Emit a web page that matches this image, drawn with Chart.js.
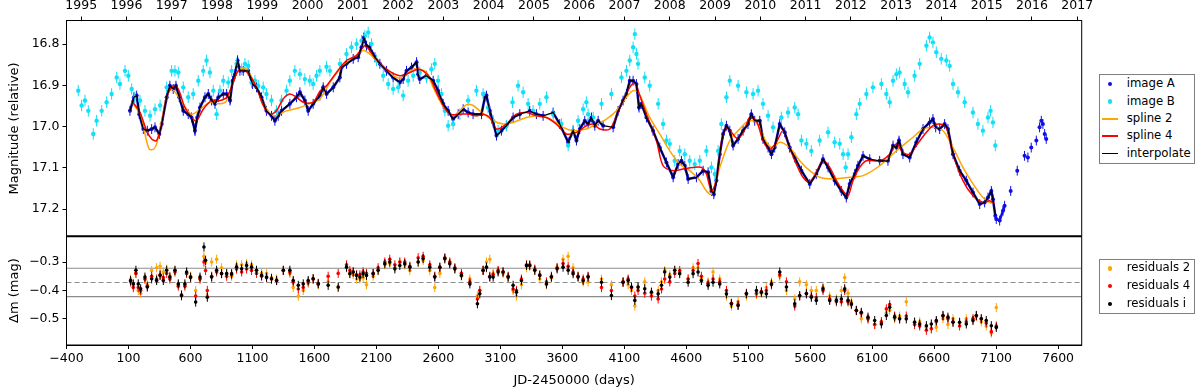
<!DOCTYPE html>
<html lang="en">
<head>
<meta charset="UTF-8">
<title>Light curves A/B</title>
<style>
  body { margin: 0; background: #fff; font-family: "DejaVu Sans", sans-serif; }
  #wrap { position: relative; width: 1200px; height: 391px; }
  #lc { position: absolute; left: 0; top: 0; }
  .leg { position: absolute; border: 1px solid #7f7f7f; box-sizing: border-box; background: #fff; }
  .row { position: absolute; left: 0; padding-left: 26.7px; font-size: 11.7px; color: #000; white-space: nowrap; }
  .dot { position: absolute; left: 7.8px; width: 4.5px; height: 4.5px; border-radius: 50%; }
  .ln { position: absolute; left: 2.3px; width: 15.4px; height: 1.5px; }
</style>
</head>
<body>
<div id="wrap">
  <canvas id="lc" width="1200" height="391"></canvas>

  <div class="leg" style="left:1099px;top:74px;width:96px;height:90px;">
    <div class="row" style="top:0.4px;height:17.3px;line-height:17.3px"><span class="dot" style="top:6.4px;background:#1010e8"></span>image A</div>
    <div class="row" style="top:17.7px;height:17.3px;line-height:17.3px"><span class="dot" style="top:6.4px;background:#10e0f8"></span>image B</div>
    <div class="row" style="top:35px;height:17.3px;line-height:17.3px"><span class="ln" style="top:8px;background:#ffa500"></span>spline 2</div>
    <div class="row" style="top:52.3px;height:17.3px;line-height:17.3px"><span class="ln" style="top:8px;background:#ff0000"></span>spline 4</div>
    <div class="row" style="top:69.6px;height:17.3px;line-height:17.3px"><span class="ln" style="top:8px;background:#000"></span>interpolate</div>
  </div>

  <div class="leg" style="left:1099px;top:259px;width:96px;height:55px;">
    <div class="row" style="top:-0.6px;height:17.8px;line-height:17.8px"><span class="dot" style="top:6.6px;background:#ffa500"></span>residuals 2</div>
    <div class="row" style="top:17.2px;height:17.8px;line-height:17.8px"><span class="dot" style="top:6.6px;background:#ff0000"></span>residuals 4</div>
    <div class="row" style="top:35px;height:17.8px;line-height:17.8px"><span class="dot" style="top:6.6px;background:#000"></span>residuals i</div>
  </div>
</div>

<script src="https://cdn.jsdelivr.net/npm/chart.js"></script>
<script>
// ---- data (days = JD-2450000) ----
const dayA = [112,144,166,187,220,252,287,314,349,368,
  408,434,461,483,510,542,582,609,636,655,
  677,717,744,771,798,825,865,892,919,940,
  959,980,999,1026,1066,1101,1133,1173,1213,1254,
  1281,1308,1335,1402,1456,1483,1523,1550,1590,1644,
  1671,1698,1752,1805,1819,1859,1913,1953,1980,1999,
  2020,2047,2088,2128,2182,2235,2289,2316,2343,2383,
  2424,2437,2450,2504,2558,2598,2639,2679,2719,2760,
  2800,2840,2880,2948,2975,2988,3015,3042,3069,3109,
  3149,3203,3257,3337,3391,3445,3526,3579,3647,3687,
  3714,3741,3781,3808,3835,3862,3889,3929,4010,4050,
  4090,4117,4144,4171,4198,4219,4238,4279,4332,4386,
  4440,4494,4534,4561,4588,4615,4682,4736,4776,4803,
  4822,4843,4870,4897,4924,4951,4978,5018,5058,5098,
  5125,5152,5193,5219,5260,5287,5313,5354,5394,5434,
  5475,5529,5596,5649,5703,5744,5797,5851,5891,5918,
  5959,5985,6026,6080,6160,6227,6268,6295,6316,6348,
  6402,6456,6510,6563,6590,6612,6644,6684,6711,6752,
  6805,6859,6913,6967,7007,7034,7061,7074,7093,
  7101,7128,7155,7168,7217,7270,7329,7356,7383,7424,
  7450,7464,7477,7491,7504];
const magA = [16.962,16.929,16.925,16.970,17.006,17.010,17.006,17.002,17.018,16.994,
  16.929,16.901,16.909,16.901,16.929,16.962,16.970,16.978,17.010,16.978,
  16.954,16.929,16.921,16.937,16.945,16.929,16.921,16.921,16.937,16.889,
  16.873,16.840,16.865,16.865,16.865,16.897,16.905,16.929,16.962,16.974,
  16.986,16.974,16.962,16.945,16.929,16.917,16.937,16.962,16.945,16.925,
  16.905,16.921,16.905,16.881,16.857,16.848,16.836,16.832,16.808,16.784,
  16.804,16.808,16.832,16.848,16.865,16.881,16.893,16.885,16.865,16.857,
  16.844,16.873,16.885,16.877,16.889,16.913,16.945,16.962,16.982,16.970,
  16.958,16.966,16.970,16.970,16.929,16.925,16.962,16.990,17.022,17.010,
  16.998,16.978,16.970,16.962,16.970,16.974,16.966,16.994,17.038,17.010,
  17.034,17.006,16.986,16.994,16.978,16.998,16.986,16.998,17.002,16.962,
  16.937,16.921,16.889,16.889,16.897,16.954,16.945,16.978,17.010,17.051,
  17.087,17.123,17.091,17.083,17.095,17.127,17.123,17.107,17.111,17.156,
  17.164,17.131,17.067,17.018,16.998,17.010,17.046,17.030,17.010,16.994,
  16.970,16.986,16.986,17.030,17.051,17.067,17.051,16.994,17.014,17.051,
  17.075,17.107,17.139,17.115,17.079,17.099,17.131,17.156,17.172,17.139,
  17.115,17.095,17.071,17.079,17.083,17.083,17.046,17.051,17.034,17.067,
  17.075,17.038,17.006,16.990,16.982,17.002,17.006,16.994,17.006,17.067,
  17.107,17.131,17.160,17.188,17.184,17.172,17.156,17.176,17.216,
  17.224,17.228,17.204,17.192,17.156,17.107,17.071,17.075,17.051,17.034,
  17.002,16.986,16.994,17.018,17.030];
const lastInterpDay = 7093;   // interpolation stops here
const lastDenseDay = 7168;    // after this image A is sparse

const dayB = [-305,-278,-251,-224,-184,-157,-116,-76,-36,5,
  31,72,99,126,152,193,233,274,314,355,
  408,448,475,502,542,582,622,663,703,730,
  757,784,811,838,865,905,932,972,1013,1040,
  1066,1093,1120,1147,1187,1213,1254,1294,1335,1375,
  1402,1442,1483,1523,1563,1590,1617,1644,1698,1725,
  1805,1859,1899,1940,1980,2007,2034,2061,2101,2155,
  2195,2235,2276,2316,2356,2397,2450,2504,2544,2571,
  2598,2625,2652,2679,2719,2773,2840,2907,2961,3001,
  3042,3082,3149,3198,3243,3284,3324,3364,3418,3472,
  3526,3593,3647,3687,3727,3768,3794,3808,3849,3916,
  3996,4077,4117,4144,4171,4185,4198,4211,4265,4305,
  4373,4413,4440,4467,4507,4547,4588,4628,4668,4709,
  4762,4803,4830,4857,4883,4924,4951,5018,5085,5139,
  5179,5219,5260,5300,5367,5421,5475,5502,5529,5569,
  5609,5676,5744,5797,5838,5865,5886,5905,5932,5972,
  5999,6053,6106,6174,6214,6241,6268,6295,6321,6362,
  6389,6442,6483,6537,6563,6590,6617,6657,6698,6725,
  6752,6792,6846,6913,6953,6993,7034,7055,7074,7093];
const magB = [16.913,16.949,16.937,16.962,17.018,16.986,16.962,16.941,16.921,16.881,
  16.897,16.865,16.877,16.909,16.929,16.937,16.962,16.974,16.958,16.949,
  16.905,16.865,16.865,16.869,16.905,16.929,16.921,16.889,16.865,16.840,
  16.869,16.913,16.970,16.913,16.889,16.893,16.865,16.848,16.861,16.848,
  16.853,16.893,16.889,16.901,16.905,16.921,16.937,16.962,16.937,16.913,
  16.889,16.865,16.873,16.885,16.889,16.897,16.877,16.865,16.855,16.865,
  16.848,16.824,16.808,16.800,16.792,16.780,16.772,16.800,16.840,16.877,
  16.897,16.909,16.905,16.925,16.889,16.877,16.869,16.881,16.861,16.848,
  16.889,16.921,16.962,16.998,16.994,16.970,16.937,16.913,16.921,16.954,
  16.986,17.010,16.998,16.941,16.901,16.917,16.945,16.962,16.945,16.929,
  16.970,16.994,17.046,17.010,16.986,16.958,16.941,16.970,16.978,16.945,
  16.921,16.881,16.865,16.840,16.808,16.776,16.824,16.848,16.881,16.901,
  16.945,16.994,17.034,17.042,17.083,17.059,17.067,17.083,17.091,17.083,
  17.059,17.099,17.115,17.059,16.994,16.929,16.889,16.901,16.917,16.921,
  16.913,16.945,16.974,17.002,16.978,16.966,16.954,16.970,17.034,17.042,
  17.059,17.034,17.014,17.038,17.042,17.067,17.099,17.067,17.026,16.970,
  16.945,16.921,16.905,16.897,16.921,16.941,16.889,16.873,16.869,16.897,
  16.917,16.877,16.848,16.804,16.784,16.796,16.820,16.836,16.840,16.853,
  16.897,16.917,16.941,16.966,16.994,17.010,16.978,16.962,16.990,17.046];

const daySpl2 = [126,193,233,268,301,327,368,408,448,488,
  542,609,677,757,838,892,945,986,1040,1080,
  1133,1187,1240,1281,1375,1483,1563,1644,1725,1805,
  1886,1993,2074,2182,2262,2316,2397,2450,2504,2558,
  2612,2665,2719,2773,2827,2880,2934,2988,3042,3122,
  3203,3311,3418,3526,3606,3687,3794,3849,3956,4037,
  4117,4171,4211,4252,4305,4386,4467,4547,4628,4709,
  4762,4803,4870,4951,5031,5085,5139,5193,5246,5300,
  5354,5434,5515,5596,5676,5784,5918,6026,6160,6295,
  6429,6510,6590,6671,6752,6832,6913,6993,7047,7088];
const magSpl2 = [16.941,16.970,17.018,17.055,17.055,17.042,16.986,16.929,16.909,16.921,
  16.945,16.970,16.958,16.941,16.945,16.937,16.889,16.865,16.858,16.873,
  16.905,16.941,16.968,16.974,16.962,16.954,16.944,16.933,16.893,16.861,
  16.840,16.816,16.832,16.865,16.881,16.881,16.861,16.861,16.869,16.905,
  16.937,16.962,16.974,16.962,16.947,16.949,16.962,16.974,16.986,16.994,
  16.990,16.978,16.974,16.986,17.002,17.010,17.006,16.998,16.982,16.962,
  16.929,16.913,16.917,16.941,16.978,17.018,17.059,17.091,17.107,17.131,
  17.156,17.164,17.099,17.034,17.006,16.990,16.986,17.002,17.038,17.051,
  17.038,17.051,17.083,17.107,17.123,17.127,17.123,17.119,17.095,17.059,
  17.026,17.006,17.002,17.010,17.051,17.099,17.139,17.172,17.184,17.186];

const daySpl4 = [126,193,246,287,327,368,408,461,502,555,
  609,649,703,771,838,892,945,986,1040,1080,
  1133,1187,1240,1294,1348,1402,1456,1510,1590,1644,
  1698,1778,1859,1940,2007,2074,2182,2289,2370,2437,
  2477,2531,2585,2639,2692,2773,2854,2907,2961,3015,
  3069,3149,3230,3311,3391,3472,3552,3633,3714,3794,
  3849,3902,3983,4037,4090,4144,4185,4225,4279,4359,
  4413,4494,4574,4655,4722,4762,4803,4843,4883,4924,
  4964,5018,5072,5112,5166,5219,5273,5327,5381,5434,
  5488,5542,5596,5649,5703,5757,5811,5865,5905,5945,
  5999,6053,6160,6241,6295,6348,6402,6456,6537,6590,
  6644,6698,6752,6832,6913,6993,7047,7088];
const magSpl4 = [16.937,16.966,17.010,17.030,17.034,16.994,16.929,16.901,16.909,16.954,
  16.978,16.986,16.958,16.937,16.937,16.929,16.893,16.865,16.865,16.877,
  16.905,16.949,16.970,16.962,16.933,16.921,16.929,16.941,16.941,16.915,
  16.901,16.869,16.840,16.828,16.804,16.828,16.861,16.877,16.869,16.861,
  16.865,16.881,16.917,16.949,16.970,16.970,16.970,16.974,16.970,16.978,
  17.006,16.994,16.970,16.966,16.974,16.978,16.994,17.018,17.014,16.998,
  16.994,17.006,17.006,16.974,16.937,16.905,16.893,16.925,16.970,17.034,
  17.095,17.107,17.103,17.099,17.099,17.115,17.156,17.131,17.038,17.002,
  17.014,17.030,17.006,16.978,16.986,17.034,17.055,17.038,17.010,17.051,
  17.091,17.123,17.135,17.111,17.083,17.099,17.131,17.156,17.168,17.131,
  17.099,17.083,17.083,17.067,17.042,17.063,17.067,17.046,17.014,16.998,
  16.994,17.002,17.067,17.131,17.168,17.184,17.180,17.188];

const resDay = [117,139,160,179,198,233,252,287,327,355,
  381,408,434,475,502,528,555,569,601,642,
  677,709,722,736,771,811,851,892,932,972,
  1013,1053,1093,1133,1174,1214,1254,1295,1349,1402,
  1429,1470,1510,1550,1590,1631,1711,1792,1859,1886,
  1913,1940,1967,1993,2020,2074,2114,2168,2208,2249,
  2289,2329,2370,2437,2477,2531,2571,2612,2652,2692,
  2733,2786,2854,2915,2934,2961,2988,3015,3042,3082,
  3122,3163,3203,3230,3270,3311,3337,3378,3418,3472,
  3512,3558,3606,3647,3687,3727,3768,3808,3916,3996,
  4090,4131,4158,4185,4211,4265,4319,4373,4400,4426,
  4467,4507,4547,4615,4655,4695,4722,4776,4816,4870,
  4924,4964,5018,5085,5166,5206,5246,5287,5354,5408,
  5475,5515,5569,5609,5649,5703,5757,5811,5851,5878,
  5905,5932,5972,6012,6066,6120,6174,6214,6241,6281,
  6321,6375,6442,6483,6537,6577,6617,6671,6711,6752,
  6805,6859,6913,6940,6980,7020,7061,7101];
const resI = [-0.365,-0.377,-0.329,-0.377,-0.394,-0.353,-0.388,-0.359,-0.365,-0.347,
  -0.365,-0.329,-0.353,-0.329,-0.377,-0.418,-0.377,-0.335,-0.353,-0.441,
  -0.353,-0.247,-0.294,-0.424,-0.353,-0.329,-0.341,-0.341,-0.341,-0.318,
  -0.324,-0.312,-0.318,-0.329,-0.347,-0.353,-0.359,-0.365,-0.329,-0.329,
  -0.365,-0.382,-0.377,-0.365,-0.359,-0.377,-0.382,-0.388,-0.318,-0.341,
  -0.335,-0.347,-0.353,-0.341,-0.347,-0.341,-0.329,-0.306,-0.300,-0.324,
  -0.312,-0.306,-0.318,-0.300,-0.288,-0.318,-0.353,-0.318,-0.288,-0.306,
  -0.324,-0.347,-0.377,-0.447,-0.412,-0.329,-0.318,-0.353,-0.353,-0.335,
  -0.335,-0.353,-0.382,-0.406,-0.365,-0.312,-0.312,-0.329,-0.347,-0.377,
  -0.353,-0.324,-0.318,-0.329,-0.341,-0.353,-0.365,-0.353,-0.371,-0.418,
  -0.371,-0.365,-0.388,-0.435,-0.388,-0.394,-0.406,-0.412,-0.382,-0.335,
  -0.353,-0.329,-0.341,-0.371,-0.341,-0.335,-0.365,-0.382,-0.371,-0.377,
  -0.412,-0.447,-0.453,-0.412,-0.400,-0.406,-0.412,-0.377,-0.335,-0.388,
  -0.447,-0.418,-0.412,-0.424,-0.435,-0.394,-0.435,-0.435,-0.430,-0.394,
  -0.435,-0.447,-0.471,-0.477,-0.494,-0.506,-0.518,-0.488,-0.459,-0.494,
  -0.500,-0.500,-0.512,-0.518,-0.524,-0.518,-0.506,-0.488,-0.494,-0.512,
  -0.512,-0.518,-0.506,-0.488,-0.500,-0.506,-0.524,-0.530];
const res4 = [-0.37,-0.39,-0.34,-0.39,-0.40,-0.36,-0.385,-0.35,-0.36,-0.345,
  -0.355,-0.34,-0.36,-0.335,-0.385,-0.415,-0.385,-0.34,-0.355,-0.42,
  -0.36,-0.30,-0.33,-0.40,-0.35,-0.335,-0.34,-0.35,-0.345,-0.325,
  -0.335,-0.325,-0.33,-0.34,-0.35,-0.355,-0.36,-0.365,-0.33,-0.335,
  -0.37,-0.395,-0.39,-0.37,-0.36,-0.375,-0.35,-0.34,-0.31,-0.33,
  -0.335,-0.345,-0.345,-0.335,-0.34,-0.34,-0.32,-0.30,-0.29,-0.31,
  -0.30,-0.30,-0.315,-0.285,-0.28,-0.31,-0.35,-0.32,-0.285,-0.30,
  -0.32,-0.34,-0.37,-0.43,-0.40,-0.33,-0.32,-0.35,-0.345,-0.33,
  -0.335,-0.35,-0.395,-0.40,-0.36,-0.31,-0.31,-0.325,-0.345,-0.37,
  -0.35,-0.32,-0.305,-0.315,-0.335,-0.35,-0.36,-0.35,-0.39,-0.40,
  -0.37,-0.36,-0.39,-0.42,-0.40,-0.41,-0.42,-0.43,-0.395,-0.36,
  -0.37,-0.34,-0.33,-0.36,-0.33,-0.305,-0.35,-0.375,-0.36,-0.37,
  -0.40,-0.445,-0.45,-0.41,-0.41,-0.405,-0.40,-0.38,-0.345,-0.37,
  -0.455,-0.42,-0.41,-0.42,-0.425,-0.40,-0.43,-0.44,-0.44,-0.40,
  -0.44,-0.45,-0.47,-0.48,-0.50,-0.52,-0.51,-0.465,-0.45,-0.49,
  -0.50,-0.49,-0.52,-0.525,-0.54,-0.535,-0.51,-0.49,-0.50,-0.51,
  -0.525,-0.51,-0.50,-0.49,-0.50,-0.515,-0.545,-0.525];
const res2 = [-0.36,-0.38,-0.34,-0.40,-0.41,-0.36,-0.38,-0.33,-0.32,-0.315,
  -0.335,-0.325,-0.35,-0.33,-0.38,-0.42,-0.38,-0.34,-0.35,-0.40,
  -0.36,-0.28,-0.30,-0.42,-0.30,-0.29,-0.32,-0.34,-0.35,-0.31,
  -0.31,-0.305,-0.31,-0.33,-0.34,-0.34,-0.355,-0.36,-0.33,-0.34,
  -0.39,-0.42,-0.40,-0.375,-0.36,-0.38,-0.37,-0.39,-0.32,-0.34,
  -0.345,-0.36,-0.36,-0.355,-0.38,-0.35,-0.33,-0.31,-0.305,-0.32,
  -0.30,-0.31,-0.33,-0.30,-0.295,-0.33,-0.39,-0.34,-0.29,-0.30,
  -0.325,-0.35,-0.36,-0.42,-0.40,-0.33,-0.30,-0.29,-0.34,-0.33,
  -0.34,-0.355,-0.40,-0.42,-0.38,-0.32,-0.315,-0.33,-0.36,-0.38,
  -0.355,-0.32,-0.29,-0.28,-0.32,-0.35,-0.37,-0.37,-0.36,-0.38,
  -0.37,-0.38,-0.40,-0.455,-0.39,-0.37,-0.41,-0.40,-0.37,-0.33,
  -0.345,-0.33,-0.335,-0.36,-0.32,-0.32,-0.36,-0.37,-0.335,-0.36,
  -0.42,-0.455,-0.44,-0.42,-0.415,-0.41,-0.39,-0.37,-0.35,-0.40,
  -0.43,-0.37,-0.38,-0.40,-0.40,-0.39,-0.42,-0.43,-0.40,-0.355,
  -0.41,-0.44,-0.47,-0.50,-0.50,-0.52,-0.51,-0.48,-0.47,-0.50,
  -0.49,-0.44,-0.51,-0.51,-0.53,-0.535,-0.53,-0.50,-0.52,-0.50,
  -0.515,-0.50,-0.50,-0.49,-0.51,-0.525,-0.55,-0.46];
const resLevels = [-0.322, -0.372, -0.422];   // mean and +/- band

// error bar half-sizes
const errA = 0.012, errB = 0.014, errRes = 0.016;

// axes
const dayTicks = [-400,100,600,1100,1600,2100,2600,3100,3600,4100,4600,5100,5600,6100,6600,7100,7600];
const yearTicks = [1995,1996,1997,1998,1999,2000,2001,2002,2003,2004,2005,2006,2007,2008,2009,2010,2011,2012,2013,2014,2015,2016,2017];
const magTicks = [16.8, 16.9, 17.0, 17.1, 17.2];
const resTicks = [-0.3, -0.4, -0.5];
const xMin = -400, xMax = 7790;
const magMin = 16.743, magMax = 17.266;
const resMin = -0.592, resMax = -0.2095;
const jd1995 = -281.5;   // 1995 Jan 1 in JD-2450000

const pts = (xs, ys) => xs.map((x, i) => ({x: x, y: ys[i]}));
const minus = v => (v < 0 ? '\u2212' + String(Math.abs(v)) : String(v));
const setTicks = vals => s => { s.ticks = vals.map(v => ({value: v})); };
const tickFont = {family: 'DejaVu Sans', size: 12.5};
const titleFont = {family: 'DejaVu Sans', size: 13};

const blue = '#1010e8', cyan = '#10e0f8', orange = '#ffa500', red = '#ff0000';

const interpIdx = dayA.filter(d => d <= lastInterpDay).length;
// no connecting band across season gaps or in the sparse tail
const gapSkip = c => ((c.p1.parsed.x - c.p0.parsed.x > 70 || c.p0.parsed.x >= lastDenseDay) ? 'rgba(0,0,0,0)' : undefined);

const errorBars = {
  id: 'errorBars',
  beforeDatasetDraw(chart, args) {
    const ds = chart.data.datasets[args.index];
    if (!ds.err) return;
    const ys = chart.scales[args.meta.yAxisID];
    const c = chart.ctx;
    c.save();
    c.strokeStyle = ds.backgroundColor;
    c.lineWidth = 1;
    c.beginPath();
    args.meta.data.forEach((p, i) => {
      const v = ds.data[i].y;
      c.moveTo(p.x, ys.getPixelForValue(v - ds.err));
      c.lineTo(p.x, ys.getPixelForValue(v + ds.err));
    });
    c.stroke();
    c.restore();
  }
};

const frame = {
  id: 'frame',
  afterDraw(chart) {
    const a = chart.chartArea;
    const c = chart.ctx;
    const mid = chart.scales.yRes.top;
    c.save();
    c.strokeStyle = '#000';
    c.lineWidth = 1;
    c.strokeRect(a.left, a.top, a.right - a.left, a.bottom - a.top);
    c.lineWidth = 2;
    c.beginPath();
    c.moveTo(a.left, mid);
    c.lineTo(a.right, mid);
    c.stroke();
    c.restore();
  }
};

const levelSets = resLevels.map((v, i) => ({
  data: [{x: xMin, y: v}, {x: xMax, y: v}],
  xAxisID: 'x', yAxisID: 'yRes', showLine: true, pointRadius: 0,
  borderColor: '#8c8c8c', borderWidth: 1.2, borderDash: i === 1 ? [5, 3] : [],
  order: 10
}));

new Chart(document.getElementById('lc'), {
  type: 'scatter',
  data: {
    datasets: [
      {label: 'interpolate', data: pts(dayA.slice(0, interpIdx), magA.slice(0, interpIdx)),
        xAxisID: 'x', yAxisID: 'y', showLine: true, borderColor: '#000', borderWidth: 1.3, pointRadius: 0, order: 1},
      {label: 'spline 4', data: pts(daySpl4, magSpl4), xAxisID: 'x', yAxisID: 'y', showLine: true,
        borderColor: red, borderWidth: 1.5, pointRadius: 0, tension: 0.3, order: 2},
      {label: 'spline 2', data: pts(daySpl2, magSpl2), xAxisID: 'x', yAxisID: 'y', showLine: true,
        borderColor: orange, borderWidth: 1.5, pointRadius: 0, tension: 0.3, order: 3},
      {label: 'image B', data: pts(dayB, magB), xAxisID: 'x', yAxisID: 'y', err: errB,
        backgroundColor: cyan, borderColor: cyan, pointRadius: 2.2, pointBorderWidth: 0, order: 4},
      {label: 'image A', data: pts(dayA, magA), xAxisID: 'x', yAxisID: 'y', err: errA, showLine: true,
        backgroundColor: blue, borderColor: blue, borderWidth: 2.5, pointRadius: 2, pointBorderWidth: 0,
        segment: {borderColor: gapSkip}, order: 5},

      {label: 'residuals i', data: pts(resDay, resI), xAxisID: 'x', yAxisID: 'yRes', err: errRes,
        backgroundColor: '#000', borderColor: '#000', pointRadius: 1.8, pointBorderWidth: 0, order: 1},
      {label: 'residuals 4', data: pts(resDay, res4), xAxisID: 'x', yAxisID: 'yRes', err: errRes,
        backgroundColor: red, borderColor: red, pointRadius: 1.8, pointBorderWidth: 0, order: 2},
      {label: 'residuals 2', data: pts(resDay, res2), xAxisID: 'x', yAxisID: 'yRes', err: errRes,
        backgroundColor: orange, borderColor: orange, pointRadius: 1.8, pointBorderWidth: 0, order: 3}
    ].concat(levelSets)
  },
  options: {
    responsive: false,
    animation: false,
    events: [],
    layout: {padding: {left: 0, right: 118.3, top: 0, bottom: 0}},
    plugins: {legend: {display: false}, tooltip: {enabled: false}},
    scales: {
      x: {
        type: 'linear', position: 'bottom', min: xMin, max: xMax,
        afterBuildTicks: setTicks(dayTicks),
        afterFit: s => { s.height = 46; },
        ticks: {callback: v => minus(v), font: tickFont, color: '#000', maxRotation: 0, autoSkip: false, padding: 2},
        grid: {drawOnChartArea: false, tickLength: 4, tickColor: '#000'},
        border: {color: '#000'},
        title: {display: true, text: 'JD-2450000 (days)', font: titleFont, color: '#000', padding: {top: 0, bottom: 3}}
      },
      xTop: {
        type: 'linear', position: 'top',
        min: 1995 + (xMin - jd1995) / 365.25, max: 1995 + (xMax - jd1995) / 365.25,
        afterBuildTicks: setTicks(yearTicks),
        afterFit: s => { s.height = 20.5; },
        ticks: {callback: v => String(v), font: tickFont, color: '#000', maxRotation: 0, autoSkip: false, padding: 3},
        grid: {drawOnChartArea: false, tickLength: 4, tickColor: '#000'},
        border: {color: '#000'}
      },
      yRes: {
        type: 'linear', position: 'left', stack: 'panels', stackWeight: 108.7, weight: 0,
        min: resMin, max: resMax,
        afterBuildTicks: setTicks(resTicks),
        afterFit: s => { s.width = 66.5; },
        ticks: {callback: v => minus(Number(v.toFixed(1))), font: tickFont, color: '#000', padding: 3},
        grid: {drawOnChartArea: false, tickLength: 4, tickColor: '#000'},
        border: {color: '#000'},
        title: {display: true, text: '\u0394m (mag)', font: titleFont, color: '#000', padding: {top: 7, bottom: 0}}
      },
      y: {
        type: 'linear', position: 'left', stack: 'panels', stackWeight: 215.8, weight: 1,
        reverse: true, min: magMin, max: magMax,
        afterBuildTicks: setTicks(magTicks),
        afterFit: s => { s.width = 66.5; },
        ticks: {callback: v => v.toFixed(1), font: tickFont, color: '#000', padding: 3},
        grid: {drawOnChartArea: false, tickLength: 4, tickColor: '#000'},
        border: {color: '#000'},
        title: {display: true, text: 'Magnitude (relative)', font: titleFont, color: '#000', padding: {top: 7, bottom: 0}}
      }
    }
  },
  plugins: [errorBars, frame]
});
</script>
</body>
</html>
